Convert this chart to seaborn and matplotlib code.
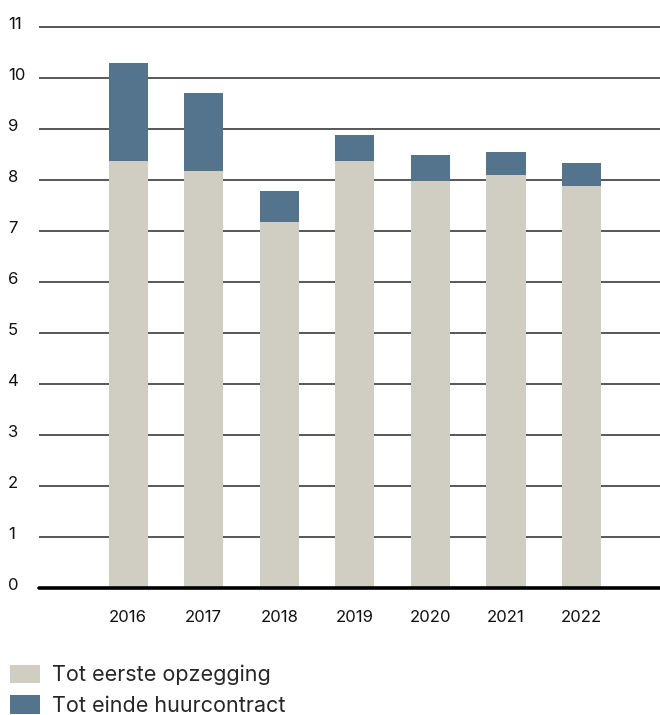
import matplotlib
matplotlib.use("Agg")
import matplotlib.pyplot as plt
import matplotlib.patches as mpatches
from matplotlib.transforms import ScaledTranslation
import seaborn as sns
import pandas as pd

years = ["2016", "2017", "2018", "2019", "2020", "2021", "2022"]
first_notice = [8.38, 8.18, 7.18, 8.38, 7.99, 8.09, 7.89]
end_contract = [1.91, 1.52, 0.61, 0.51, 0.51, 0.45, 0.44]
yticks = list(range(0, 12))
labels = ["Tot eerste opzegging", "Tot einde huurcontract"]

light = "#D0CEC3"
dark = "#54738C"

sns.set_theme(style="white")
plt.rcParams["font.family"] = ["Inter", "DejaVu Sans"]

df = pd.DataFrame({
    "year": years,
    "first": first_notice,
    "total": [a + b for a, b in zip(first_notice, end_contract)],
})

fig = plt.figure(figsize=(6.6, 7.15), dpi=100)
ax = fig.add_axes([39 / 660, 1 - 588 / 715, 1 - 39 / 660, (588 - 22) / 715])

sns.barplot(data=df, x="year", y="total", color=dark, width=0.52,
            saturation=1, ax=ax, zorder=3, linewidth=0, edgecolor="none")
sns.barplot(data=df, x="year", y="first", color=light, width=0.52,
            saturation=1, ax=ax, zorder=3, linewidth=0, edgecolor="none")

ax.set_ylim(0, 11 + 5 / 51)
ax.set_xlim(-1.18, 7.04)
ax.set_yticks(yticks)
ax.set_xlabel("")
ax.set_ylabel("")
for s in ax.spines.values():
    s.set_visible(False)
for t in yticks[1:]:
    ax.axhline(t, color="#4a4a4a", lw=1.3, zorder=1)
ax.axhline(0, color="black", lw=2.6, zorder=4, clip_on=False)

ax.tick_params(axis="y", length=0, pad=0, labelsize=12, labelcolor="#111111")
ax.tick_params(axis="x", length=0, pad=16, labelsize=12, labelcolor="#111111")
off = ScaledTranslation(-31 / 100, -5 / 100, fig.dpi_scale_trans)
for lab in ax.get_yticklabels():
    lab.set_horizontalalignment("left")
    lab.set_verticalalignment("bottom")
    lab.set_transform(lab.get_transform() + off)

handles = [mpatches.Patch(color=light, lw=0), mpatches.Patch(color=dark, lw=0)]
fig.legend(handles, labels, loc="upper left", bbox_to_anchor=(0.0, 1 - 655 / 715),
           frameon=False, fontsize=15.5, handlelength=1.4, handleheight=0.95,
           handletextpad=0.55, labelspacing=0.45, borderaxespad=0.0, borderpad=0.45)

fig.savefig("out.png", dpi=100)
